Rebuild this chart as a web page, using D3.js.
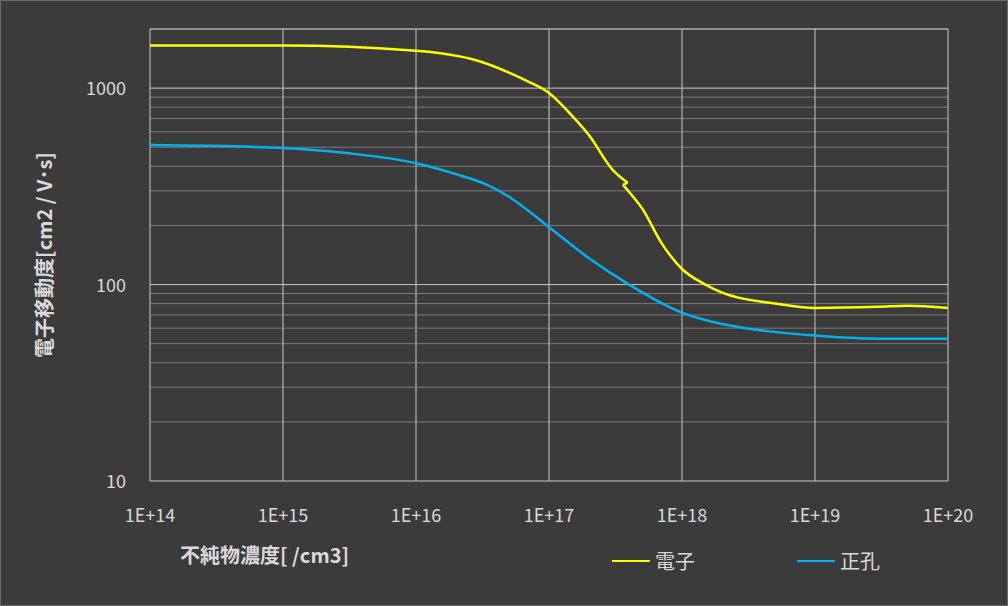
<!DOCTYPE html>
<html><head><meta charset="utf-8">
<script src="https://cdn.jsdelivr.net/npm/d3@7"></script>
<style>body{margin:0;background:#3b3b3b}svg{display:block;font-family:"Noto Sans CJK JP","Noto Sans",sans-serif}</style>
</head><body><svg id="c" width="1008" height="606"></svg>
<script>
var xTicks = [1e14, 1e15, 1e16, 1e17, 1e18, 1e19, 1e20];
var xTickLabels = ['1E+14', '1E+15', '1E+16', '1E+17', '1E+18', '1E+19', '1E+20'];
var yTicks = [10, 100, 1000];
var electronA = [[1e14,1650],[1e15,1650],[1e16,1550],[3e16,1370],[5e16,1200],[7e16,1080],[1e17,945],[1.5e17,720],[2e17,575],[3e17,385],[3.9e17,330]];
var electronB = [[3.6e17,322],[4.2e17,285],[5e17,245],[7e17,163],[1e18,120],[1.5e18,100],[2e18,91],[5e18,80],[1e19,76],[3e19,77],[5e19,78],[1e20,76]];
var hole = [[1e14,513],[1e15,496],[3e15,467],[1e16,415],[2e16,365],[3.5e16,320],[5e16,280],[1e17,196],[2e17,136],[4e17,100],[1e18,72],[2e18,63],[3e18,60],[1e19,55],[3e19,53],[1e20,53]];

var svg = d3.select('#c');
var x = d3.scaleLog().domain([1e14, 1e20]).range([150, 948]);
var y = d3.scaleLog().domain([10, 2000]).range([481, 29]);

svg.append('rect').attr('x', 0.5).attr('y', 0.5).attr('width', 1007).attr('height', 605)
  .attr('fill', '#3b3b3b').attr('stroke', '#6a6a6a');

var minor = [];
[10, 100, 1000].forEach(function (d) {
  for (var k = 2; k <= 9; k++) { if (d * k <= 2000) minor.push(d * k); }
});
svg.append('g').selectAll('line').data(minor).join('line')
  .attr('x1', 150).attr('x2', 948).attr('y1', d => y(d)).attr('y2', d => y(d))
  .attr('stroke', '#7a7a7a').attr('stroke-width', 1);
svg.append('g').selectAll('line').data(yTicks.concat([2000])).join('line')
  .attr('x1', 150).attr('x2', 948).attr('y1', d => y(d)).attr('y2', d => y(d))
  .attr('stroke', '#c8c8c8').attr('stroke-width', 1);
svg.append('g').selectAll('line').data(xTicks).join('line')
  .attr('x1', d => x(d)).attr('x2', d => x(d)).attr('y1', 29).attr('y2', 481)
  .attr('stroke', '#c8c8c8').attr('stroke-width', 1);

svg.append('g').selectAll('text').data(xTicks).join('text')
  .attr('x', d => x(d)).attr('y', 522).attr('text-anchor', 'middle')
  .attr('fill', '#d9d9d9').attr('font-size', 18).text((d, i) => xTickLabels[i]);
svg.append('g').selectAll('text').data(yTicks).join('text')
  .attr('x', 126).attr('y', d => y(d) + 7).attr('text-anchor', 'end')
  .attr('fill', '#d9d9d9').attr('font-size', 18).text(d => d);

var line = d3.line().x(d => x(d[0])).y(d => y(d[1])).curve(d3.curveMonotoneX);
var joint = d3.line().x(d => x(d[0])).y(d => y(d[1]));
svg.append('path').attr('d', line(electronA)).attr('fill', 'none').attr('stroke', '#ffff00').attr('stroke-width', 2.5);
svg.append('path').attr('d', joint([electronA[electronA.length - 1], electronB[0]]))
  .attr('fill', 'none').attr('stroke', '#ffff00').attr('stroke-width', 2.5);
svg.append('path').attr('d', line(electronB)).attr('fill', 'none').attr('stroke', '#ffff00').attr('stroke-width', 2.5);
svg.append('path').attr('d', line(hole)).attr('fill', 'none').attr('stroke', '#00b0f0').attr('stroke-width', 2.5);

svg.append('text').attr('transform', 'translate(52,255) rotate(-90)')
  .attr('text-anchor', 'middle').attr('fill', '#d9d9d9').attr('font-size', 20)
  .attr('font-weight', 'bold').text('電子移動度[cm2 / V･s]');
svg.append('text').attr('x', 180).attr('y', 563).attr('fill', '#d9d9d9')
  .attr('font-size', 20).attr('font-weight', 'bold').text('不純物濃度[ /cm3]');

var legend = [['電子', '#ffff00', 612], ['正孔', '#00b0f0', 797]];
legend.forEach(function (l) {
  svg.append('line').attr('x1', l[2]).attr('x2', l[2] + 38).attr('y1', 561).attr('y2', 561)
    .attr('stroke', l[1]).attr('stroke-width', 2);
  svg.append('text').attr('x', l[2] + 43).attr('y', 569).attr('fill', '#d9d9d9')
    .attr('font-size', 20).text(l[0]);
});
</script></body></html>
